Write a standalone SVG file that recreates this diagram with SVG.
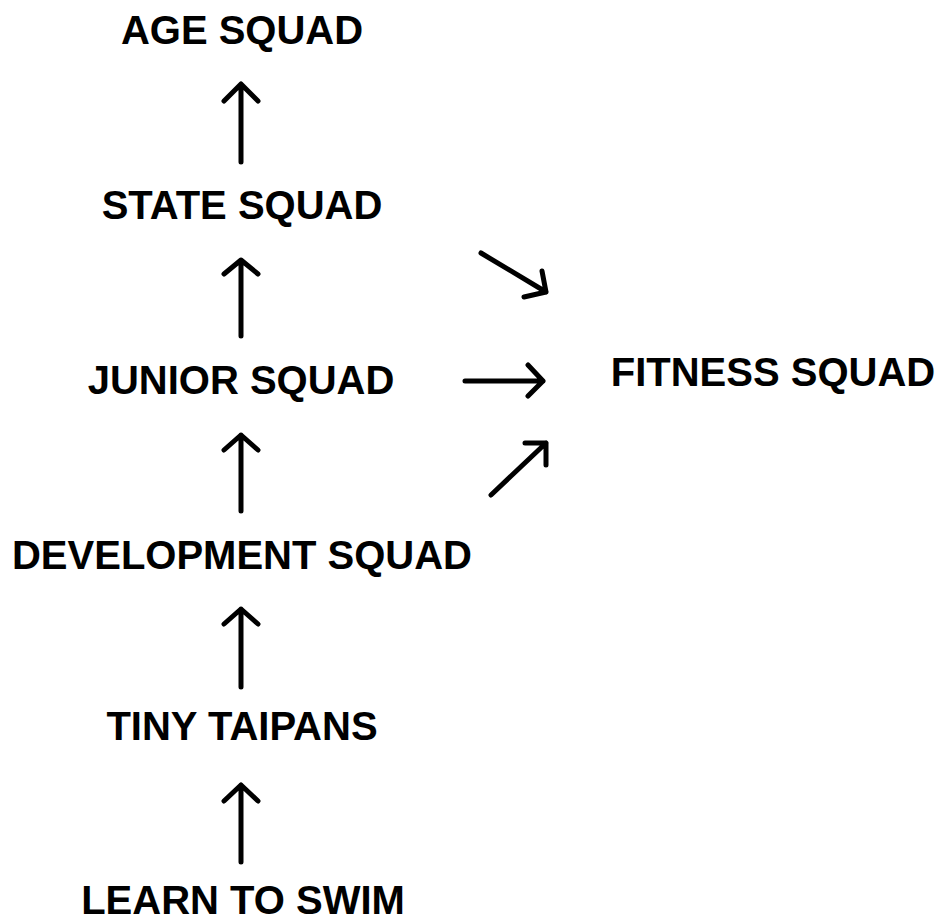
<svg xmlns="http://www.w3.org/2000/svg" width="939" height="921" viewBox="0 0 939 921">
<style>
.lbl{font-family:"Liberation Sans",Arial,sans-serif;font-weight:bold;font-size:40px;fill:#000;text-anchor:middle}
.arr{fill:none;stroke:#000;stroke-width:5;stroke-linecap:round;stroke-linejoin:round}
</style>
<rect width="939" height="921" fill="#fff"/>
<g id="age"><text class="lbl" x="242" y="44">AGE SQUAD</text></g>
<g id="state"><text class="lbl" x="242" y="219">STATE SQUAD</text></g>
<g id="junior"><text class="lbl" x="241" y="394">JUNIOR SQUAD</text></g>
<g id="development"><text class="lbl" x="242" y="569">DEVELOPMENT SQUAD</text></g>
<g id="tiny"><text class="lbl" x="242" y="740">TINY TAIPANS</text></g>
<g id="learn"><text class="lbl" x="243" y="914">LEARN TO SWIM</text></g>
<g id="fitness"><text class="lbl" x="773" y="386">FITNESS SQUAD</text></g>
<g id="connectors">
<path class="arr" d="M241 162V84M224 101L241 84L258 101"/>
<path class="arr" d="M241 336V260M224 274L241 260L258 274"/>
<path class="arr" d="M241 511V435M224 450L241 435L258 450"/>
<path class="arr" d="M241 687V609M224 624L241 609L258 624"/>
<path class="arr" d="M241 862V785M224 801L241 785L258 801"/>
<path class="arr" d="M481 253L546 292M542 271L546 292L524 297"/>
<path class="arr" d="M465 381H543M528 365L543 381L528 396"/>
<path class="arr" d="M491 495L546 443M525 443L546 443L546 465"/>
</g>
</svg>
